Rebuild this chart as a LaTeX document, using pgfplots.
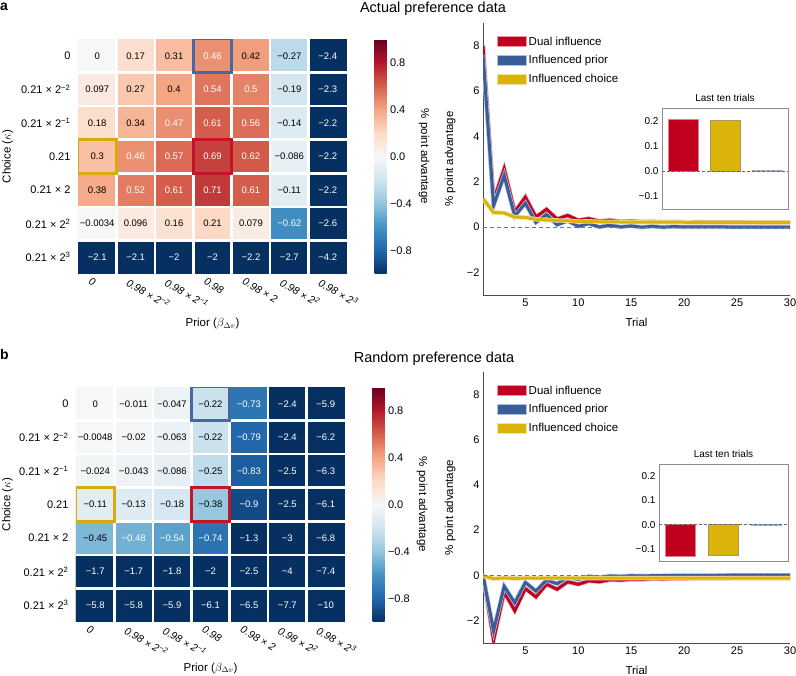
\documentclass[border=0pt]{standalone}
\usepackage{fontspec}
\setmainfont{Liberation Sans}
\usepackage{pgfplots}
\pgfplotsset{compat=1.18}
\usepackage{pgfplotstable}
\pgfplotsset{/pgf/number format/assume math mode=true}

\definecolor{cRed}{RGB}{193,0,32}
\definecolor{cBlue}{RGB}{58,93,154}
\definecolor{cYel}{RGB}{218,180,10}
\definecolor{bxBlue}{RGB}{70,105,165}
\definecolor{bxRed}{RGB}{195,20,42}
\definecolor{bxYel}{RGB}{216,170,14}

\pgfplotsset{colormap={rdbu}{rgb255=(5,48,97) rgb255=(33,102,172) rgb255=(67,147,195) rgb255=(146,197,222) rgb255=(209,229,240) rgb255=(247,247,247) rgb255=(253,219,199) rgb255=(244,165,130) rgb255=(214,96,77) rgb255=(178,24,43) rgb255=(103,0,31)}}

\newcommand{\fs}[1]{\fontsize{#1}{#1}\selectfont}

\pgfplotsset{
 heat/.style={scale only axis, width=269pt, height=235pt,
  xmin=-0.5, xmax=6.5, ymin=-0.5, ymax=6.5, y dir=reverse,
  axis line style={draw=none}, major tick length=0pt,
  xtick={0,...,6}, ytick={0,...,6},
  xticklabels={0, 0.98 × 2\textsuperscript{−2}, 0.98 × 2\textsuperscript{−1}, 0.98, 0.98 × 2, 0.98 × 2\textsuperscript{2}, 0.98 × 2\textsuperscript{3}},
  yticklabels={0, 0.21 × 2\textsuperscript{−2}, 0.21 × 2\textsuperscript{−1}, 0.21, 0.21 × 2, 0.21 × 2\textsuperscript{2}, 0.21 × 2\textsuperscript{3}},
  xticklabel style={font=\itshape\fs{10.5}, xshift=-6pt, yshift=-2pt, rotate=-30, anchor=north west, inner sep=1pt},
  yticklabel style={font=\fs{11}, xshift=-4pt},
  xlabel={Prior ($\beta_{\Delta v}$)}, ylabel={Choice ($\kappa$)},
  label style={font=\fs{11.5}},
  colormap name=rdbu, point meta min=-1, point meta max=1,
  colorbar,
  colorbar style={width=12pt, at={(parent axis.north east)}, anchor=north west, xshift=19pt,
   ytick={-0.8,-0.4,0,0.4,0.8}, yticklabels={−0.8,−0.4,0.0,0.4,0.8},
   major tick length=0pt, yticklabel style={font=\fs{11}},
   ylabel={\% point advantage}, ylabel style={rotate=180, font=\fs{11.5}},
   axis line style={draw=none}},
 },
 lineax/.style={scale only axis, width=307pt, xmin=1, xmax=30, ymin=-3, ymax=9,
  axis x line*=bottom, axis y line*=left,
  axis line style={black!70, line width=0.8pt},
  major tick length=0pt, xtick={5,10,...,30}, ytick={-2,0,2,4,6,8},
  yticklabels={−2,0,2,4,6,8},
  tick label style={font=\fs{11}},
  xlabel={Trial}, ylabel={\% point advantage},
  label style={font=\fs{11.5}},
  xlabel style={at={(axis description cs:0.5,-0.1)}, anchor=center},
  ylabel style={at={(axis description cs:-0.107,0.5)}, anchor=center},
  legend style={at={(axis description cs:0.035,0.965)}, anchor=north west, draw=none, fill=none,
   font=\fs{11.5}, row sep=5pt},
  legend cell align=left,
 },
 inset/.style={scale only axis, xmin=-0.5, xmax=2.5, ymin=-0.15, ymax=0.25,
  xtick=\empty, ytick={-0.1,0,0.1,0.2}, yticklabels={−0.1,0.0,0.1,0.2},
  major tick length=0pt, axis line style={black!45, line width=0.8pt},
  tick label style={font=\fs{10}},
  title={Last ten trials}, title style={font=\fs{10}, yshift=-3pt},
  axis background/.style={fill=white},
  ybar, bar width=30pt, bar shift=0pt,
 },
 sepl/.style={white, line width=2.5pt, no marks, unbounded coords=jump, forget plot},
 cell/.style={only marks, mark=none, point meta=explicit symbolic,
  nodes near coords, nodes near coords align=center,
  every node near coord/.append style={font=\fs{9.5}, anchor=center, text=#1}},
}

\pgfplotstableread{
x y c lab tc
0 0 0 0 0
1 0 0.17 0.17 0
2 0 0.31 0.31 0
3 0 0.46 0.46 1
4 0 0.42 0.42 0
5 0 -0.27 −0.27 0
6 0 -1 −2.4 1
0 1 0.097 0.097 0
1 1 0.27 0.27 0
2 1 0.4 0.4 0
3 1 0.54 0.54 1
4 1 0.5 0.5 1
5 1 -0.19 −0.19 0
6 1 -1 −2.3 1
0 2 0.18 0.18 0
1 2 0.34 0.34 0
2 2 0.47 0.47 1
3 2 0.61 0.61 1
4 2 0.56 0.56 1
5 2 -0.14 −0.14 0
6 2 -1 −2.2 1
0 3 0.3 0.3 0
1 3 0.46 0.46 1
2 3 0.57 0.57 1
3 3 0.69 0.69 1
4 3 0.62 0.62 1
5 3 -0.086 −0.086 0
6 3 -1 −2.2 1
0 4 0.38 0.38 0
1 4 0.52 0.52 1
2 4 0.61 0.61 1
3 4 0.71 0.71 1
4 4 0.61 0.61 1
5 4 -0.11 −0.11 0
6 4 -1 −2.2 1
0 5 -0.0034 −0.0034 0
1 5 0.096 0.096 0
2 5 0.16 0.16 0
3 5 0.21 0.21 0
4 5 0.079 0.079 0
5 5 -0.62 −0.62 1
6 5 -1 −2.6 1
0 6 -1 −2.1 1
1 6 -1 −2.1 1
2 6 -1 −2 1
3 6 -1 −2 1
4 6 -1 −2.2 1
5 6 -1 −2.7 1
6 6 -1 −4.2 1
}\tabA

\pgfplotstableread{
x y c lab tc
0 0 0 0 0
1 0 -0.011 −0.011 0
2 0 -0.047 −0.047 0
3 0 -0.22 −0.22 0
4 0 -0.73 −0.73 1
5 0 -1 −2.4 1
6 0 -1 −5.9 1
0 1 -0.0048 −0.0048 0
1 1 -0.02 −0.02 0
2 1 -0.063 −0.063 0
3 1 -0.22 −0.22 0
4 1 -0.79 −0.79 1
5 1 -1 −2.4 1
6 1 -1 −6.2 1
0 2 -0.024 −0.024 0
1 2 -0.043 −0.043 0
2 2 -0.086 −0.086 0
3 2 -0.25 −0.25 0
4 2 -0.83 −0.83 1
5 2 -1 −2.5 1
6 2 -1 −6.3 1
0 3 -0.11 −0.11 0
1 3 -0.13 −0.13 0
2 3 -0.18 −0.18 0
3 3 -0.38 −0.38 0
4 3 -0.9 −0.9 1
5 3 -1 −2.5 1
6 3 -1 −6.1 1
0 4 -0.45 −0.45 0
1 4 -0.48 −0.48 1
2 4 -0.54 −0.54 1
3 4 -0.74 −0.74 1
4 4 -1 −1.3 1
5 4 -1 −3 1
6 4 -1 −6.8 1
0 5 -1 −1.7 1
1 5 -1 −1.7 1
2 5 -1 −1.8 1
3 5 -1 −2 1
4 5 -1 −2.5 1
5 5 -1 −4 1
6 5 -1 −7.4 1
0 6 -1 −5.8 1
1 6 -1 −5.8 1
2 6 -1 −5.9 1
3 6 -1 −6.1 1
4 6 -1 −6.5 1
5 6 -1 −7.7 1
6 6 -1 −10 1
}\tabB

\pgfplotstableread{
t r b y
1 8.0 7.6 1.25
2 1.17 0.95 0.64
3 2.57 2.27 0.62
4 0.66 0.48 0.44
5 1.32 1.05 0.42
6 0.44 0.2 0.34
7 0.78 0.55 0.31
8 0.35 0.1 0.29
9 0.51 0.27 0.28
10 0.3 0.03 0.24
11 0.37 0.15 0.25
12 0.26 0.0 0.23
13 0.3 0.08 0.23
14 0.24 0.0 0.22
15 0.26 0.05 0.22
16 0.23 -0.01 0.21
17 0.24 0.03 0.21
18 0.22 -0.01 0.21
19 0.23 0.02 0.21
20 0.22 0.0 0.21
21 0.22 0.01 0.2
22 0.21 0.0 0.2
23 0.21 0.01 0.2
24 0.21 0.0 0.2
25 0.21 0.0 0.2
26 0.2 0.0 0.2
27 0.2 0.0 0.2
28 0.2 0.0 0.2
29 0.2 0.0 0.2
30 0.2 0.0 0.2
}\lineA

\pgfplotstableread{
t r b y
1 0 0 -0.03
2 -2.87 -2.46 -0.15
3 -0.74 -0.49 -0.12
4 -1.57 -1.22 -0.14
5 -0.59 -0.32 -0.13
6 -0.96 -0.7 -0.13
7 -0.4 -0.22 -0.13
8 -0.62 -0.37 -0.13
9 -0.29 -0.1 -0.13
10 -0.4 -0.19 -0.13
11 -0.25 -0.05 -0.13
12 -0.29 -0.1 -0.13
13 -0.2 -0.03 -0.13
14 -0.22 -0.05 -0.13
15 -0.18 -0.02 -0.13
16 -0.19 -0.03 -0.13
17 -0.16 -0.02 -0.13
18 -0.17 -0.02 -0.13
19 -0.15 -0.01 -0.13
20 -0.15 -0.01 -0.13
21 -0.14 -0.01 -0.13
22 -0.14 -0.01 -0.13
23 -0.14 -0.01 -0.13
24 -0.14 0 -0.13
25 -0.13 0 -0.13
26 -0.13 0 -0.13
27 -0.13 0 -0.13
28 -0.13 0 -0.13
29 -0.13 0 -0.13
30 -0.13 0 -0.13
}\lineB

\newcommand{\seplines}{%
\addplot[sepl] coordinates {(0.5,-0.5)(0.5,6.5)(0.5,nan)(1.5,-0.5)(1.5,6.5)(1.5,nan)(2.5,-0.5)(2.5,6.5)(2.5,nan)(3.5,-0.5)(3.5,6.5)(3.5,nan)(4.5,-0.5)(4.5,6.5)(4.5,nan)(5.5,-0.5)(5.5,6.5)(5.5,nan)
(-0.5,0.5)(6.5,0.5)(nan,0.5)(-0.5,1.5)(6.5,1.5)(nan,1.5)(-0.5,2.5)(6.5,2.5)(nan,2.5)(-0.5,3.5)(6.5,3.5)(nan,3.5)(-0.5,4.5)(6.5,4.5)(nan,4.5)(-0.5,5.5)(6.5,5.5)};
\addplot[bxBlue, line width=2.5pt, no marks, forget plot] coordinates {(2.5,-0.5)(3.5,-0.5)(3.5,0.5)(2.5,0.5)(2.5,-0.5)(3.5,-0.5)};
\addplot[bxRed, line width=2.5pt, no marks, forget plot] coordinates {(2.5,2.5)(3.5,2.5)(3.5,3.5)(2.5,3.5)(2.5,2.5)(3.5,2.5)};
\addplot[bxYel, line width=2.5pt, no marks, forget plot] coordinates {(-0.5,2.5)(0.5,2.5)(0.5,3.5)(-0.5,3.5)(-0.5,2.5)(0.5,2.5)};
}

\newcommand{\celltext}[1]{%
\addplot[cell=black, restrict expr to domain={\thisrow{tc}}{-0.5:0.5}] table[x=x,y=y,meta=lab]{#1};
\addplot[cell=white, restrict expr to domain={\thisrow{tc}}{0.5:1.5}] table[x=x,y=y,meta=lab]{#1};
}

\newcommand{\lines}[1]{%
\addplot[forget plot, cRed!35!white, line width=4.4pt, no marks] table[x=t,y=r]{#1};
\addplot[cRed, line width=3pt, no marks, legend image code/.code={\draw[fill=cRed, draw=cRed!40!white, line width=0.8pt] (0pt,-5pt) rectangle (29pt,5pt);}] table[x=t,y=r]{#1};
\addplot[forget plot, cBlue!35!white, line width=4.4pt, no marks] table[x=t,y=b]{#1};
\addplot[cBlue, line width=3pt, no marks, legend image code/.code={\draw[fill=cBlue, draw=cBlue!40!white, line width=0.8pt] (0pt,-5pt) rectangle (29pt,5pt);}] table[x=t,y=b]{#1};
\addplot[forget plot, cYel!35!white, line width=4.4pt, no marks] table[x=t,y=y]{#1};
\addplot[cYel, line width=3pt, no marks, legend image code/.code={\draw[fill=cYel, draw=cYel!40!white, line width=0.8pt] (0pt,-5pt) rectangle (29pt,5pt);}] table[x=t,y=y]{#1};
\addplot[forget plot, black!55, line width=1pt, dash pattern=on 4pt off 3pt, no marks] coordinates {(1,0)(30,0)};
\legend{Dual influence, Influenced prior, Influenced choice}
}

\begin{document}
\begin{tikzpicture}
\useasboundingbox (0,0) rectangle (796pt,-676pt);

\node[anchor=base west, font=\bfseries\fs{14}, inner sep=0] at (0pt,-11pt) {a};
\node[anchor=base west, font=\bfseries\fs{14}, inner sep=0] at (0pt,-360pt) {b};
\node[anchor=base, font=\fs{14.5}, inner sep=0] at (433pt,-13pt) {Actual preference data};
\node[anchor=base, font=\fs{14.5}, inner sep=0] at (434pt,-363pt) {Random preference data};

% ---- top heatmap
\begin{axis}[heat, at={(78pt,-39pt)}, anchor=north west,
  xlabel style={at={(axis description cs:0.5,-0.21)}, anchor=center},
  ylabel style={at={(axis description cs:-0.262,0.5)}, anchor=center}]
\addplot[matrix plot*, mesh/cols=7, mesh/rows=7, point meta=explicit, shader=flat corner] table[x=x,y=y,meta=c]{\tabA};
\seplines
\celltext{\tabA}
\end{axis}

% ---- top lines
\begin{axis}[lineax, at={(483pt,-23pt)}, anchor=north west, height=272pt]
\lines{\lineA}
\end{axis}

\begin{axis}[inset, at={(662pt,-108pt)}, anchor=north west, width=126pt, height=101pt]
\addplot[fill=cRed, draw=cRed!50!white] coordinates {(0,0.205)};
\addplot[fill=cYel, draw=cYel!60!black!70!white] coordinates {(1,0.203)};
\addplot[fill=cBlue, draw=cBlue!50!white] coordinates {(2,0.002)};
\addplot[sharp plot, black!60, line width=0.8pt, dash pattern=on 3pt off 2pt, no marks] coordinates {(-0.5,0)(2.5,0)};
\end{axis}

% ---- bottom heatmap
\begin{axis}[heat, at={(76pt,-387pt)}, anchor=north west,
  xlabel style={at={(axis description cs:0.5,-0.196)}, anchor=center},
  ylabel style={at={(axis description cs:-0.255,0.5)}, anchor=center}]
\addplot[matrix plot*, mesh/cols=7, mesh/rows=7, point meta=explicit, shader=flat corner] table[x=x,y=y,meta=c]{\tabB};
\seplines
\celltext{\tabB}
\end{axis}

% ---- bottom lines
\begin{axis}[lineax, at={(483pt,-372pt)}, anchor=north west, height=271pt]
\lines{\lineB}
\end{axis}

\begin{axis}[inset, at={(659pt,-464pt)}, anchor=north west, width=129pt, height=97pt]
\addplot[fill=cRed, draw=cRed!50!white] coordinates {(0,-0.13)};
\addplot[fill=cYel, draw=cYel!60!black!70!white] coordinates {(1,-0.126)};
\addplot[fill=cBlue, draw=cBlue!50!white] coordinates {(2,-0.003)};
\addplot[sharp plot, black!60, line width=0.8pt, dash pattern=on 3pt off 2pt, no marks] coordinates {(-0.5,0)(2.5,0)};
\end{axis}

\end{tikzpicture}
\end{document}
